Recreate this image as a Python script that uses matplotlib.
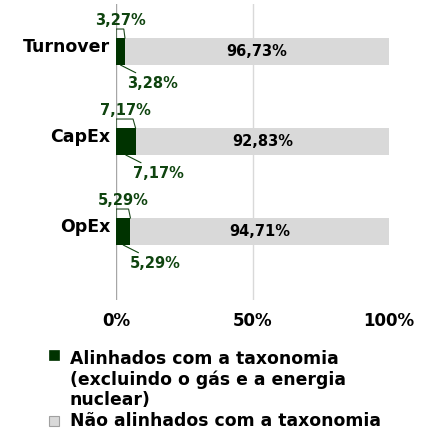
import matplotlib
matplotlib.use("Agg")
import matplotlib.pyplot as plt
from matplotlib.patches import Rectangle

plt.rcParams['font.family'] = ['DejaVu Sans']
plt.rcParams['font.weight'] = 'bold'

categories = ["Turnover", "CapEx", "OpEx"]
aligned_top = [3.27, 7.17, 5.29]      # callout above
aligned = [3.28, 7.17, 5.29]           # bar value
not_aligned = [96.73, 92.83, 94.71]
xticks = [0, 50, 100]
xticklabels = ["0%", "50%", "100%"]
legend_lines_1 = ["Alinhados com a taxonomia", "(excluindo o gás e a energia", "nuclear)"]
legend_lines_2 = ["Não alinhados com a taxonomia"]

DARK = "#003300"
LIGHT = "#d9d9d9"
TXTG = "#0f440f"

W, H = 427, 432
fig = plt.figure(figsize=(W / 100, H / 100), dpi=100)
ax = fig.add_axes([116 / W, 1 - 300 / H, 273 / W, 296 / H])

ypos = list(range(len(categories)))
bh = 0.3
ax.set_xlim(0, 100)
ax.set_ylim(2.761, -0.528)

ax.axvline(0, color="#a6a6a6", lw=1, zorder=0)
ax.axvline(50, color=LIGHT, lw=1, zorder=0)

ax.barh(ypos, aligned, height=bh, color=DARK, zorder=2)
ax.barh(ypos, not_aligned, left=aligned, height=bh, color=LIGHT, zorder=2)

def pct(v):
    return f"{v:.2f}".replace(".", ",") + "%"

d = 0.1
for y, a, at, na in zip(ypos, aligned, aligned_top, not_aligned):
    top = y - bh / 2
    bot = y + bh / 2
    ax.plot([0, 0, a * 0.87, a], [top, top - d, top - d, top], color="#1f4a1f", lw=0.8, zorder=3,
            solid_joinstyle='miter')
    ax.annotate(pct(at), xy=(a / 2, top - d), xytext=(0, 1),
                textcoords="offset pixels", ha="center", va="bottom", color=TXTG,
                fontsize=10.5, fontweight="bold")
    ax.annotate(pct(a), xy=(a / 2, bot), xytext=(7, -18),
                textcoords="offset pixels", ha="left", va="center", color=TXTG,
                fontsize=10.5, fontweight="bold",
                arrowprops=dict(arrowstyle="-", color=TXTG, lw=0.8, shrinkA=0, shrinkB=0,
                                relpos=(0.27, 1.0)))
    ax.text(a + na / 2, y, pct(na), ha="center", va="center",
            color="black", fontsize=10.5, fontweight="bold", zorder=4)

ax.set_yticks(ypos)
ax.set_yticklabels(categories, fontsize=12.5, fontweight="bold", va="baseline")
ax.set_xticks(xticks)
ax.set_xticklabels(xticklabels, fontsize=12, fontweight="bold")
ax.tick_params(axis="both", length=0)
ax.tick_params(axis="x", pad=9)
ax.tick_params(axis="y", pad=4)
for s in ax.spines.values():
    s.set_visible(False)

# legend (manual)
fig.patches.append(Rectangle((49 / W, 1 - 360 / H), 10 / W, 10 / H, transform=fig.transFigure,
                             facecolor=DARK, edgecolor=DARK, lw=0.5))
fig.patches.append(Rectangle((49 / W, 1 - 426 / H), 10 / W, 10 / H, transform=fig.transFigure,
                             facecolor=LIGHT, edgecolor="#a0a0a0", lw=0.8))
for i, line in enumerate(legend_lines_1):
    fig.text(70 / W, 1 - (357 + 20.5 * i) / H, line, ha="left", va="center_baseline",
             fontsize=12.4, fontweight="bold")
for line in legend_lines_2:
    fig.text(70 / W, 1 - 419 / H, line, ha="left", va="center_baseline",
             fontsize=12.4, fontweight="bold")

fig.savefig("out.png", dpi=100)
